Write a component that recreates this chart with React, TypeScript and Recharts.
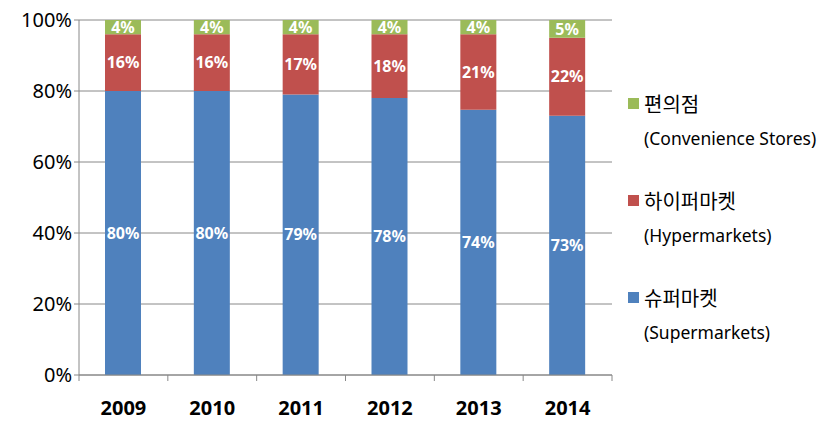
import { BarChart, Bar, XAxis, YAxis, CartesianGrid, Legend, LabelList } from 'recharts';

const years = ['2009', '2010', '2011', '2012', '2013', '2014'];
const supermarkets = [80, 80, 79, 78, 74, 73];
const hypermarkets = [16, 16, 17, 18, 21, 22];
const convenience = [4, 4, 4, 4, 4, 5];
const yTicks = [0, 0.2, 0.4, 0.6, 0.8, 1];

const series = [
  { key: 'conv', ko: '편의점', en: '(Convenience Stores)', color: '#9BBB59' },
  { key: 'hyper', ko: '하이퍼마켓', en: '(Hypermarkets)', color: '#C0504D' },
  { key: 'super', ko: '슈퍼마켓', en: '(Supermarkets)', color: '#4F81BD' },
];

const data = years.map((year, i) => ({
  year,
  super: supermarkets[i],
  hyper: hypermarkets[i],
  conv: convenience[i],
}));

const W = 840;
const H = 427;
const legendWidth = 212;
// legend sits to the right and reserves its own width
const margin = { top: 20, right: 228 - legendWidth, bottom: 0, left: 0 };
const yWidth = 79;
const step = (W - 228 - yWidth) / years.length;

const font = '"Noto Sans", "Noto Sans CJK KR", sans-serif';

function XTick(props: any) {
  const { x, y, payload, index } = props;
  const left = x - step / 2;
  return (
    <g>
      <line x1={left} y1={y - 8} x2={left} y2={y - 2} stroke="#888" />
      {index === years.length - 1 && (
        <line x1={x + step / 2} y1={y - 8} x2={x + step / 2} y2={y - 2} stroke="#888" />
      )}
      <text
        x={x}
        y={y + 32}
        textAnchor="middle"
        fontSize={20}
        fontWeight="bold"
        fill="#000"
        fontFamily={font}
      >
        {payload.value}
      </text>
    </g>
  );
}

function LegendBox() {
  return (
    <div style={{ fontFamily: font, fontSize: 17.5, color: '#000' }}>
      {series.map((s) => (
        <div key={s.key} style={{ height: 97 }}>
          <div style={{ display: 'flex', alignItems: 'center', height: 30 }}>
            <span
              style={{ display: 'inline-block', width: 11, height: 11, background: s.color, marginRight: 5 }}
            />
            <span style={{ fontSize: 20 }}>{s.ko}</span>
          </div>
          <div style={{ paddingLeft: 16, height: 40, lineHeight: '40px', whiteSpace: 'nowrap' }}>{s.en}</div>
        </div>
      ))}
    </div>
  );
}

const labelStyle = {
  fill: '#fff',
  fontSize: 16,
  fontWeight: 'bold' as const,
  fontFamily: font,
};

export default function App() {
  return (
    <div style={{ position: 'absolute', left: 0, top: 0, background: '#fff' }}>
      <BarChart
        width={W}
        height={H}
        data={data}
        margin={margin}
        stackOffset="expand"
        barSize={36}
      >
        <CartesianGrid vertical={false} stroke="#888" />
        <XAxis
          dataKey="year"
          height={52}
          axisLine={{ stroke: '#888' }}
          tickLine={false}
          tick={<XTick />}
          interval={0}
        />
        <YAxis
          width={yWidth}
          domain={[0, 1]}
          ticks={yTicks}
          tickFormatter={(v: number) => `${Math.round(v * 100)}%`}
          axisLine={{ stroke: '#888' }}
          tickLine={{ stroke: '#888' }}
          tickSize={5}
          tick={{ fontSize: 20, fill: '#000', fontFamily: font }}
        />
        <Legend
          layout="vertical"
          align="right"
          verticalAlign="top"
          content={<LegendBox />}
          wrapperStyle={{ left: 628, top: 88, width: legendWidth }}
        />
        <Bar dataKey="super" stackId="a" fill="#4F81BD" isAnimationActive={false}>
          <LabelList dataKey="super" position="center" formatter={(v: any) => `${v}%`} style={labelStyle} />
        </Bar>
        <Bar dataKey="hyper" stackId="a" fill="#C0504D" isAnimationActive={false}>
          <LabelList dataKey="hyper" position="center" formatter={(v: any) => `${v}%`} style={labelStyle} />
        </Bar>
        <Bar dataKey="conv" stackId="a" fill="#9BBB59" isAnimationActive={false}>
          <LabelList dataKey="conv" position="center" formatter={(v: any) => `${v}%`} style={labelStyle} />
        </Bar>
      </BarChart>
    </div>
  );
}
